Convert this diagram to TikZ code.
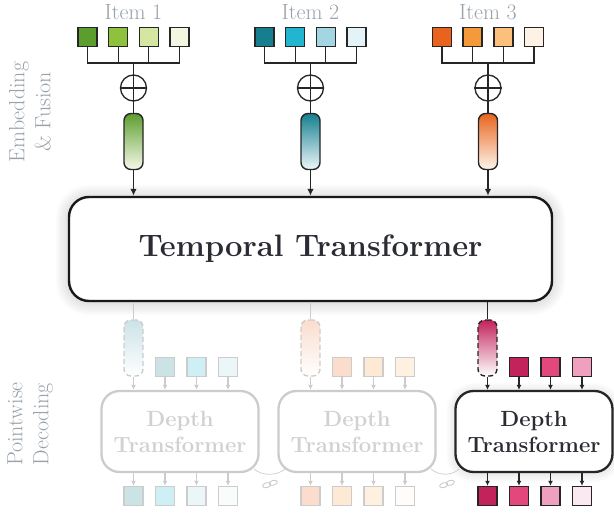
\documentclass[tikz,border=0pt]{standalone}
\usetikzlibrary{arrows.meta,shadows.blur}
% item palettes (dark -> light)
\definecolor{G1}{HTML}{5C9E2E}\definecolor{G2}{HTML}{8FC23C}
\definecolor{G3}{HTML}{D5E6A3}\definecolor{G4}{HTML}{F3F7E1}
\definecolor{T1}{HTML}{157F8F}\definecolor{T2}{HTML}{22B5CF}
\definecolor{T3}{HTML}{A2D6E3}\definecolor{T4}{HTML}{E4F3F8}
\definecolor{O1}{HTML}{E8641E}\definecolor{O2}{HTML}{F49A3B}
\definecolor{O3}{HTML}{FBC07C}\definecolor{O4}{HTML}{FDF2E4}
\definecolor{P1}{HTML}{C2235B}\definecolor{P2}{HTML}{E3487D}
\definecolor{P3}{HTML}{F0A0BF}\definecolor{P4}{HTML}{FBE8F0}
\definecolor{labelgray}{HTML}{99A1A9}
\definecolor{ink}{HTML}{2A2B33}
\begin{document}
\begin{tikzpicture}[x=1pt,y=-1pt,
  sq/.style={draw=black!85, line width=1.4pt, minimum size=19pt, inner sep=0pt},
  pill/.style={draw=black!85, line width=1.4pt, rounded corners=7pt,
    minimum width=19pt, minimum height=56pt, inner sep=0pt},
  wire/.style={line width=1.3pt, draw=black!85},
  arr/.style={wire, -{Latex[length=7pt,width=6.5pt]}},
  sarr/.style={line width=1.1pt, -{Latex[length=5pt,width=5pt]}},
  oplus/.style={circle, wire, minimum size=26pt, inner sep=0pt},
  itemlabel/.style={text=labelgray, font=\fontsize{22}{26}\selectfont},
  sidelabel/.style={text=labelgray, align=center, rotate=90,
    font=\fontsize{22}{26}\selectfont},
  bigbox/.style={draw=black!90, line width=2.4pt, rounded corners=20pt, fill=white,
    minimum width=483pt, minimum height=104pt, text=ink,
    font=\fontsize{31}{37}\selectfont\bfseries,
    blur shadow={shadow xshift=0pt, shadow yshift=-1pt, shadow blur radius=14pt,
      shadow blur steps=14, shadow opacity=25}},
  dbox/.style={line width=2.3pt, rounded corners=18pt, fill=white,
    minimum width=157pt, minimum height=81pt, align=center,
    font=\fontsize{22}{26}\selectfont\bfseries},
  softshadow/.style={blur shadow={shadow xshift=0pt, shadow yshift=-1pt,
      shadow blur radius=10pt, shadow blur steps=10, shadow opacity=18}},
  linkline/.style={draw=black!20, line width=0.7pt},
]
\useasboundingbox (0,0) rectangle (614,517);

% side labels
\node[sidelabel] (lab-emb) at (30,112) {Embedding\\\& Fusion};
\node[sidelabel] (lab-dec) at (30,424) {Pointwise\\Decoding};

% temporal transformer
\node[bigbox] (tt) at (310.5,249) {Temporal Transformer};

% embedding and fusion of each item
\foreach \cx/\lbl/\ca/\cb/\cc/\cd/\k in {133.5/1/G1/G2/G3/G4/a, 310.5/2/T1/T2/T3/T4/b, 488/3/O1/O2/O3/O4/c}{
  \node[itemlabel] (item\k) at (\cx,12) {Item \lbl};
  \foreach \i/\dx/\col in {1/-46/\ca, 2/-15.33/\cb, 3/15.33/\cc, 4/46/\cd}
    \node[sq, fill=\col] (s\k\i) at (\cx+\dx,37) {};
  \coordinate (bm\k) at (\cx,63);
  \draw[wire] (s\k1.south) |- (bm\k) -| (s\k4.south);
  \draw[wire] (s\k2.south) -- (s\k2.south |- bm\k);
  \draw[wire] (s\k3.south) -- (s\k3.south |- bm\k);
  \node[oplus] (o\k) at (\cx,88) {};
  \node[pill, top color=\ca, bottom color=\cd!70!white] (p\k) at (\cx,141.5) {};
  \draw[wire] (bm\k) -- (p\k.north);
  \draw[wire] (o\k.west) -- (o\k.east);
  \draw[arr] (p\k.south) -- (p\k.south |- tt.north);
}

% pointwise decoding
\foreach \cx/\k/\ca/\cb/\cc/\cd/\mx/\ln/\tx/\sh in {
    133.5/d/T1/T2/T3/T4/22/black!20/black!18/,
    310.5/e/O1/O2/O3/O4/22/black!20/black!18/,
    487.5/f/P1/P2/P3/P4/100/black!85/ink/softshadow}{
  \node[pill, dashed, dash pattern=on 5pt off 3pt, draw=\ln,
        top color=\ca!\mx!white, bottom color=white] (q\k) at (\cx,348) {};
  \draw[wire, draw=\ln] (q\k.north |- tt.south) -- (q\k.north);
  \foreach \i/\dx/\col in {1/31.5/\ca, 2/63/\cb, 3/94.5/\cc}
    \node[sq, draw=\ln, fill=\col!\mx!white] (in\k\i) at (\cx+\dx,367) {};
  \node[dbox, draw=\ln, text=\tx, \sh] (db\k) at (\cx+46.5,431.5) {Depth\\Transformer};
  \draw[sarr, draw=\ln] (q\k.south) -- (q\k.south |- db\k.north);
  \foreach \i in {1,2,3}
    \draw[sarr, draw=\ln] (in\k\i.south) -- (in\k\i.south |- db\k.north);
  \foreach \i/\dx/\col in {0/0/\ca, 1/31.5/\cb, 2/63/\cc, 3/94.5/\cd}{
    \node[sq, draw=\ln, fill=\col!\mx!white] (out\k\i) at (\cx+\dx,496) {};
    \draw[sarr, draw=\ln] (out\k\i.north |- db\k.south) -- (out\k\i.north);
  }
}

% links between neighbouring depth transformers
\coordinate (l1a) at (254,469); \coordinate (l1b) at (285,469);
\coordinate (l2a) at (431,469); \coordinate (l2b) at (459,469);
\draw[linkline] (l1a) .. controls (262,476) and (277,476) .. (l1b);
\draw[linkline] (l2a) .. controls (439,476) and (452,476) .. (l2b);
\coordinate (k1) at (270,484); \coordinate (k2) at (447,484);
\foreach \c in {k1,k2}{
  \draw[linkline, line width=0.9pt] (\c) ++(-3.3,1.2) ellipse [x radius=4.2pt, y radius=2.4pt, rotate=18];
  \draw[linkline, line width=0.9pt] (\c) ++(3.3,-1.2) ellipse [x radius=4.2pt, y radius=2.4pt, rotate=18];
}
\end{tikzpicture}
\end{document}
